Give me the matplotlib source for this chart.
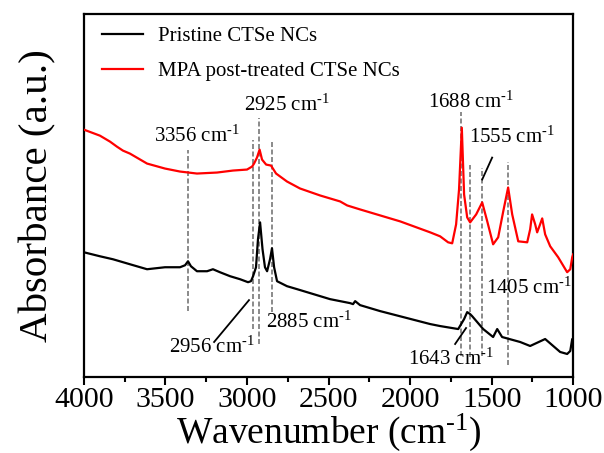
import matplotlib
matplotlib.use("Agg")
import matplotlib.pyplot as plt
from matplotlib.ticker import MultipleLocator

plt.rcParams["font.family"] = ["Liberation Serif", "DejaVu Serif"]
plt.rcParams["mathtext.fontset"] = "custom"
plt.rcParams["mathtext.rm"] = "Liberation Serif"
plt.rcParams["mathtext.it"] = "Liberation Serif:italic"
plt.rcParams["mathtext.default"] = "rm"

SUP = r"$^{\text{-}1}$"

# spectra (wavenumber in cm-1, absorbance in arbitrary units)
wn_pristine = [4000, 3902, 3822, 3718, 3613, 3503, 3411, 3380, 3362, 3344, 3307, 3245,
               3209, 3166, 3104, 3043, 2994, 2976, 2963, 2945, 2933, 2920, 2905, 2890,
               2877, 2859, 2847, 2834, 2816, 2755, 2693, 2491, 2368, 2350, 2337, 2307,
               2184, 1877, 1816, 1705, 1669, 1650, 1632, 1620, 1552, 1491, 1466, 1436,
               1325, 1264, 1172, 1080, 1037, 1018, 1006, 1000]
abs_pristine = [125, 121, 118, 113, 108, 110, 110, 112, 116, 111, 106, 106,
                108, 105, 101, 98, 95, 96, 101, 110, 138, 155, 128, 110,
                106, 118, 129, 110, 96, 91, 88, 78, 74, 73, 76, 72,
                66, 53, 51, 48, 58, 65, 63, 61, 48, 40, 48, 40,
                35, 31, 38, 25, 23, 26, 38, 33]

wn_mpa = [4000, 3902, 3840, 3798, 3761, 3718, 3613, 3503, 3411, 3307, 3184, 3086,
          3000, 2969, 2957, 2939, 2923, 2908, 2883, 2853, 2822, 2755, 2675, 2552,
          2429, 2386, 2307, 2184, 2061, 1877, 1816, 1767, 1742, 1718, 1700, 1683,
          1669, 1650, 1632, 1595, 1558, 1527, 1491, 1460, 1429, 1399, 1374, 1337,
          1282, 1264, 1252, 1233, 1221, 1203, 1190, 1172, 1141, 1092, 1037, 1018,
          1006, 1000]
abs_mpa = [248, 242, 236, 231, 227, 224, 214, 209, 206, 204, 205, 207,
           208, 211, 214, 220, 228, 218, 213, 212, 204, 196, 189, 182,
           176, 172, 168, 162, 156, 145, 141, 135, 134, 153, 188, 250,
           183, 160, 155, 163, 175, 156, 133, 140, 166, 190, 163, 136,
           135, 148, 163, 153, 145, 153, 159, 143, 131, 120, 105, 108,
           120, 123]

# marked peaks: position of dashed guide, its vertical extent
peak_pos = [3362, 2963, 2924, 2848, 1689, 1632, 1557, 1401]
peak_top = [228, 238, 260, 238, 266, 213, 210, 216]
peak_bottom = [66, 48, 33, 65, 21, 20, 21, 12]

# labels: text, x, y
label_text = ["3356", "2925", "2885", "1688", "1555", "1405", "1643", "2956"]
label_x = [3307, 2755, 2620, 1626, 1374, 1270, 1748, 3215]
label_y = [241, 273, 55, 276, 240, 89, 18, 30]

# leader lines for some labels: (x0, y0, x1, y1)
leaders = [(3202, 35, 2988, 77), (1558, 198, 1497, 220), (1724, 33, 1657, 49)]

fig = plt.figure(figsize=(6.04, 4.53), dpi=100)
ax = fig.add_axes([0.139, 0.168, 0.810, 0.801])

for x, y0, y1 in zip(peak_pos, peak_bottom, peak_top):
    ax.plot([x, x], [y0, y1], color="#777777", lw=1.2, ls=(0, (3, 1.5)), zorder=1)

ax.plot(wn_pristine, abs_pristine, color="black", lw=1.6, label="Pristine CTSe NCs", zorder=3)
ax.plot(wn_mpa, abs_mpa, color="red", lw=1.6, label="MPA post-treated CTSe NCs", zorder=3)

for t, x, y in zip(label_text, label_x, label_y):
    ax.text(x, y, t + " cm" + SUP, fontsize=15, ha="center", va="center")

for x0, y0, x1, y1 in leaders:
    ax.plot([x0, x1], [y0, y1], color="black", lw=1.3)

ax.set_xlim(4000, 1000)
ax.set_ylim(0, 364)
ax.xaxis.set_major_locator(MultipleLocator(500))
ax.xaxis.set_minor_locator(MultipleLocator(250))
ax.tick_params(axis="x", which="major", direction="out", length=6, width=1.5, labelsize=21.5, pad=1)
ax.tick_params(axis="x", which="minor", direction="out", length=3.5, width=1.5)
ax.set_yticks([])
for s in ax.spines.values():
    s.set_linewidth(1.6)

ax.set_xlabel("Wavenumber (cm" + SUP + ")", fontsize=27, labelpad=-1)
ax.set_ylabel("Absorbance (a.u.)", fontsize=29.5, labelpad=20)

ax.legend(loc="upper left", bbox_to_anchor=(0.015, 0.995), frameon=False, fontsize=15,
          handlelength=2.0, handletextpad=0.7, labelspacing=0.75, borderaxespad=0.1)

fig.savefig("out.png", dpi=100)
